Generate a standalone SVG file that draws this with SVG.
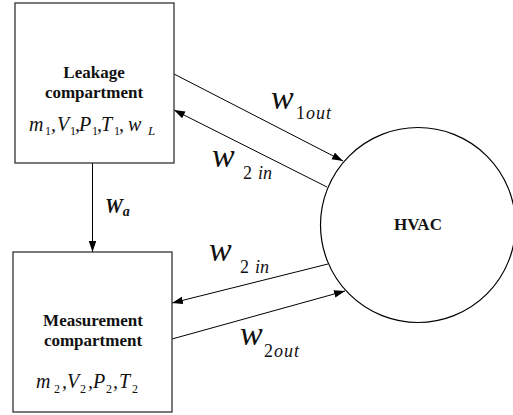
<svg xmlns="http://www.w3.org/2000/svg" width="513" height="415" viewBox="0 0 513 415">
<style>
.box{fill:#fff;stroke:#333;stroke-width:1.3}
.ln{stroke:#000;stroke-width:1;fill:none;marker-end:url(#ah)}
</style>
<defs>
<marker id="ah" markerUnits="userSpaceOnUse" markerWidth="11" markerHeight="8" refX="11" refY="3.75" orient="auto">
<path d="M0,0 L11,3.75 L0,7.5 z" fill="#000"/>
</marker>
</defs>
<rect width="513" height="415" fill="#fff"/>
<g id="connectors">
<line class="ln" x1="92.5" y1="163" x2="92.5" y2="252"/>
<line class="ln" x1="174" y1="74" x2="343" y2="161"/>
<line class="ln" x1="327" y1="187" x2="174" y2="110"/>
<line class="ln" x1="328" y1="264" x2="172" y2="303"/>
<line class="ln" x1="172" y1="339" x2="345" y2="291"/>
</g>
<g font-family="'Liberation Serif', 'DejaVu Serif', serif" fill="#111">
<g id="leakage">
<rect class="box" x="15" y="3" width="159" height="160"/>
<text font-weight="bold" font-size="17" text-anchor="middle" x="94" y="78">Leakage</text>
<text font-weight="bold" font-size="17" text-anchor="middle" x="94" y="98">compartment</text>
<text font-style="italic" font-size="20" y="131"><tspan x="29">m</tspan><tspan font-style="normal" font-size="12" x="45" dy="4">1</tspan><tspan x="51" dy="-4">,</tspan><tspan x="57">V</tspan><tspan font-style="normal" font-size="12" x="70" dy="4">1</tspan><tspan x="75" dy="-4">,</tspan><tspan x="79">P</tspan><tspan font-style="normal" font-size="12" x="92" dy="4">1</tspan><tspan x="97" dy="-4">,</tspan><tspan x="101">T</tspan><tspan font-style="normal" font-size="12" x="114" dy="4">1</tspan><tspan x="119" dy="-4">,</tspan><tspan x="128">w</tspan><tspan x="148" dy="4" font-size="13">L</tspan></text>
</g>
<g id="measurement">
<rect class="box" x="13" y="252" width="159" height="160"/>
<text font-weight="bold" font-size="17" text-anchor="middle" x="93" y="326">Measurement</text>
<text font-weight="bold" font-size="17" text-anchor="middle" x="93" y="346">compartment</text>
<text font-style="italic" font-size="20" y="388"><tspan x="36">m</tspan><tspan font-style="normal" font-size="12" x="54" dy="5">2</tspan><tspan x="62" dy="-5">,</tspan><tspan x="67">V</tspan><tspan font-style="normal" font-size="12" x="80" dy="5">2</tspan><tspan x="88" dy="-5">,</tspan><tspan x="93">P</tspan><tspan font-style="normal" font-size="12" x="106" dy="5">2</tspan><tspan x="113" dy="-5">,</tspan><tspan x="119">T</tspan><tspan font-style="normal" font-size="12" x="132" dy="5">2</tspan></text>
</g>
<g id="hvac">
<circle cx="418" cy="225" r="97.5" fill="#fff" stroke="#000" stroke-width="1.2"/>
<text font-weight="bold" font-size="17" text-anchor="middle" x="418" y="230">HVAC</text>
</g>
<g id="labels">
<text font-style="italic" font-weight="bold" font-size="20" x="105" y="213">W<tspan font-size="14" dy="3">a</tspan></text>
<text font-style="italic" font-size="34" x="271" y="109">w<tspan font-size="18" font-style="normal" x="296" dy="10" letter-spacing="1">1</tspan><tspan font-size="18" letter-spacing="1">out</tspan></text>
<text font-style="italic" font-size="34" x="212" y="167">w<tspan font-size="18" font-style="normal" x="243" dy="12">2</tspan><tspan font-size="18" x="258">in</tspan></text>
<text font-style="italic" font-size="34" x="209" y="261">w<tspan font-size="18" font-style="normal" x="240" dy="12">2</tspan><tspan font-size="18" x="255">in</tspan></text>
<text font-style="italic" font-size="34" x="240" y="345">w<tspan font-size="18" font-style="normal" x="264" dy="12" letter-spacing="1">2</tspan><tspan font-size="18" letter-spacing="1">out</tspan></text>
</g>
</g>
</svg>
